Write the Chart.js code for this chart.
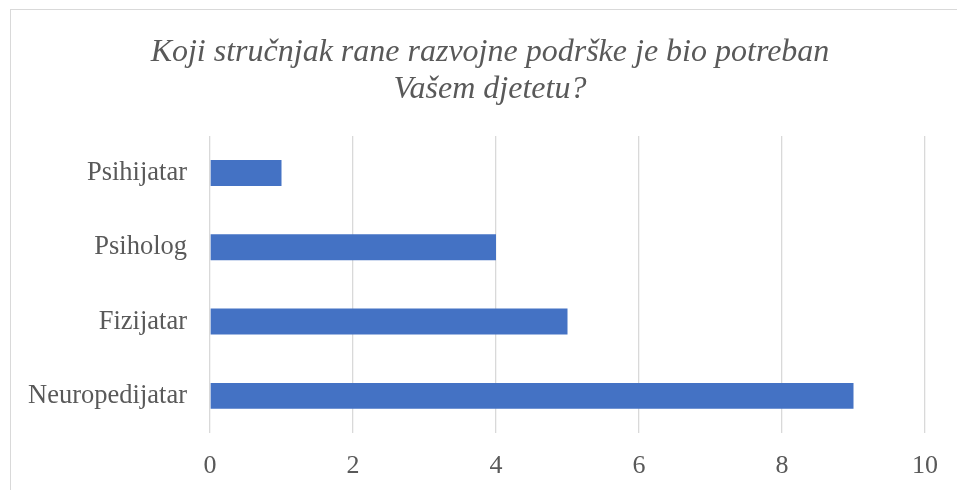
<!DOCTYPE html>
<html>
<head>
<meta charset="utf-8">
<script src="https://cdn.jsdelivr.net/npm/chart.js@4/dist/chart.umd.min.js"></script>
<style>
  html, body { margin: 0; padding: 0; background: #fff; overflow: hidden; }
  #wrap { position: relative; width: 957px; height: 490px; }
  #frame {
    position: absolute; left: 10px; top: 9px; width: 1000px; height: 600px;
    border: 1px solid #d9d9d9; box-sizing: border-box;
  }
  canvas { position: absolute; left: 0; top: 0; }
</style>
</head>
<body>
<div id="wrap">
  <div id="frame"></div>
  <canvas id="chart" width="957" height="490"></canvas>
</div>
<script>
const categories = ['Psihijatar', 'Psiholog', 'Fizijatar', 'Neuropedijatar']
const values = [1, 4, 5, 9]
const tickMin = 0
const tickMax = 10
const tickStep = 2
const titleLines = ['Koji stručnjak rane razvojne podrške je bio potreban', 'Vašem djetetu?']

const textColor = '#595959'
const fontFamily = '"Liberation Serif", "Times New Roman", serif'

new Chart(document.getElementById('chart'), {
  type: 'bar',
  data: {
    labels: categories,
    datasets: [
      {
        label: 'Broj',
        data: values,
        backgroundColor: '#4472C4',
        borderWidth: 0,
        categoryPercentage: 1,
        barPercentage: 0.35,
      },
    ],
  },
  options: {
    indexAxis: 'y',
    responsive: false,
    animation: false,
    layout: { padding: { left: 23, right: 0, top: 0, bottom: 0 } },
    plugins: {
      legend: { display: false },
      tooltip: { enabled: false },
      title: {
        display: true,
        text: titleLines,
        color: textColor,
        font: { family: fontFamily, size: 32, style: 'italic', weight: 'normal', lineHeight: 1.156 },
        padding: { top: 34.5, bottom: 27.5 },
      },
    },
    scales: {
      x: {
        min: tickMin,
        max: tickMax,
        ticks: {
          stepSize: tickStep,
          color: textColor,
          font: { family: fontFamily, size: 26 },
          padding: 18,
        },
        grid: { color: '#d9d9d9', lineWidth: 1.3, drawTicks: false },
        border: { display: false },
        afterFit(scale) {
          scale.height = 57
        },
      },
      y: {
        ticks: {
          color: textColor,
          font: { family: fontFamily, size: 26.5 },
          padding: 23,
        },
        grid: { display: false, drawTicks: false },
        border: { display: false },
        afterFit(scale) {
          scale.width = 187
        },
      },
      // empty right-hand spacer so the plot ends where the reference does
      yRight: {
        type: 'category',
        position: 'right',
        labels: categories,
        ticks: { display: false },
        grid: { display: false, drawTicks: false },
        border: { display: false },
        afterFit(scale) {
          scale.width = 32
        },
      },
    },
  },
})
</script>
</body>
</html>
